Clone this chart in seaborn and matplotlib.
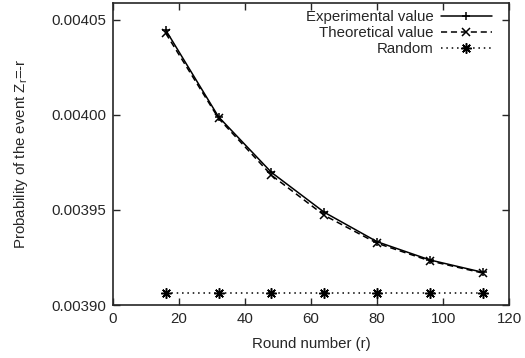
import numpy as np, pandas as pd, matplotlib
matplotlib.use("Agg"); import matplotlib.pyplot as plt
import seaborn as sns
sns.set_style("ticks")
plt.rcParams["font.family"] = ["Liberation Sans", "DejaVu Sans"]

rounds = [16, 32, 48, 64, 80, 96, 112]
experimental = [0.0040447, 0.0039990, 0.0039698, 0.0039488, 0.0039333, 0.0039237, 0.0039172]
theoretical = [0.0040430, 0.0039982, 0.0039683, 0.0039472, 0.0039325, 0.0039232, 0.0039168]
random_val = [1 / 256] * 7

df = pd.DataFrame({"r": rounds * 3,
                   "p": experimental + theoretical + random_val,
                   "series": ["Experimental value"] * 7 + ["Theoretical value"] * 7 + ["Random"] * 7})

fig, ax = plt.subplots(figsize=(5.25, 3.58), dpi=100)
fig.subplots_adjust(left=0.215, right=0.970, top=0.992, bottom=0.148)

styles = {"Experimental value": dict(ls="-", marker="+", ms=6),
          "Theoretical value": dict(ls=(0, (4, 2.5)), marker="x", ms=6),
          "Random": dict(ls=(0, (1, 2.5)), marker=(8, 2, 0), ms=7.5)}
for name, st in styles.items():
    sns.lineplot(data=df[df.series == name], x="r", y="p", ax=ax, color="black", lw=1.1,
                 linestyle=st["ls"], marker=st["marker"], markersize=st["ms"], mew=1.1,
                 mec="black", label=name)

fs = 10.8
ax.set_xlim(0, 120); ax.set_ylim(0.00390, 0.004059)
ax.set_xticks(range(0, 121, 20))
ax.set_yticks([0.00390, 0.00395, 0.00400, 0.00405])
ax.set_yticklabels(["0.00390", "0.00395", "0.00400", "0.00405"])
ax.tick_params(direction="in", top=True, right=True, length=5, width=1, labelsize=fs, pad=5)
for s in ax.spines.values():
    s.set_linewidth(1.2)
ax.set_xlabel("Round number (r)", fontsize=fs, labelpad=8)
ax.set_ylabel("Probability of the event Z$_\\mathregular{r}$=-r", fontsize=fs, labelpad=15)
ax.legend(loc="upper right", bbox_to_anchor=(0.975, 1.0), markerfirst=False, frameon=False,
          fontsize=fs, handlelength=3.4, labelspacing=0.12, borderaxespad=0.3,
          handletextpad=0.5, borderpad=0.2)
for t in ax.get_legend().get_texts():
    t.set_ha("right")
ax.get_legend()._legend_box.align = "right"
fig.savefig("out.png", dpi=100)
